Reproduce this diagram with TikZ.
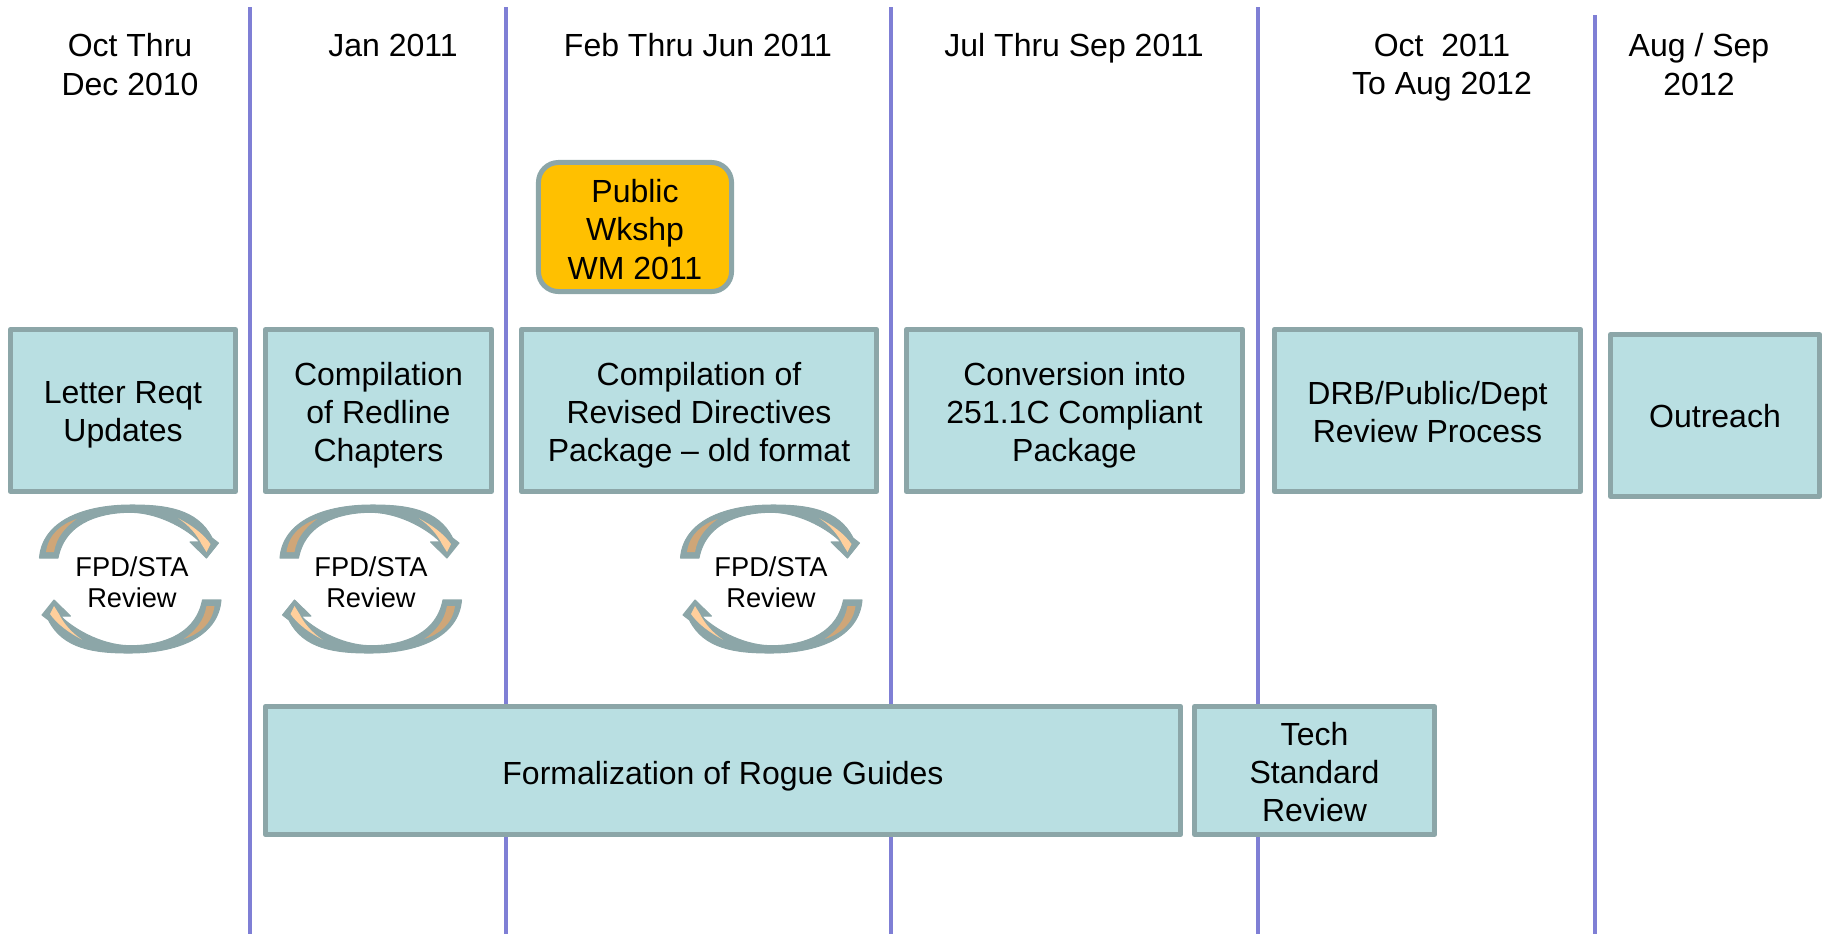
\documentclass[tikz,border=0pt]{standalone}
\usepackage{fontspec}
\setmainfont{Liberation Sans}
\definecolor{boxfill}{HTML}{B9DFE2}
\definecolor{boxline}{HTML}{8CA6A8}
\definecolor{gridblue}{HTML}{7F7FD5}
\definecolor{wkshp}{HTML}{FFC000}
\definecolor{arctan}{HTML}{CFA678}
\definecolor{arclight}{HTML}{FFCF9C}
\newcommand{\reviewarc}{
	% Grey arrow
	\fill[arcshell] (-92,-21) .. controls (-89,-58) and (-48,-74) .. (0,-74)
		.. controls (34,-74) and (66,-70) .. (80.5,-41) -- (87,-36) -- (75,-21) -- (58.5,-37) -- (68.5,-37)
		.. controls (58,-48) and (30,-66) .. (0,-66.7)
		.. controls (-25,-67) and (-66,-60) .. (-73.5,-21) -- cycle;
	% Tail and head colours
	\fill[arctan] (-85.5,-27) .. controls (-83,-45) and (-70,-55) .. (-54.8,-60)
		.. controls (-66,-52) and (-75,-42) .. (-77.5,-27) -- cycle;
	\fill[arclight] (46.8,-60.7) .. controls (60,-54) and (72,-45) .. (79,-35) -- (75,-27) -- (70,-35)
		.. controls (65,-45) and (57,-54) .. (46.8,-60.7) -- cycle;
}
\tikzset{
	period/.style={anchor=north,align=center,inner sep=0pt,font=\fontsize{9.1}{10.9}\selectfont},
	taskbox/.style={draw=boxline,fill=boxfill,line width=1.42pt,line join=round,align=center,inner sep=0pt,font=\fontsize{9.1}{10.9}\selectfont},
	textdrop/.style={execute at begin node={\rule{0pt}{#1}}},
	gridline/.style={gridblue,line width=1pt},
	reviewtext/.style={align=center,inner sep=0pt,font=\fontsize{7.75}{8.9}\selectfont},
	arcshell/.style={fill=boxline,draw=boxline,line width=0.3pt,line join=round},
	reviewloop/.pic={
		\reviewarc
		\begin{scope}[xshift=-0.025cm,rotate=180]
			\reviewarc
		\end{scope}
	}
}
\begin{document}
\begin{tikzpicture}[x=0.01cm,y=-0.01cm]
	\useasboundingbox (0,0) rectangle (1824,936);
	
	% Vertical separators
	\draw[gridline] (250,7) -- (250,934);
	\draw[gridline] (506,7) -- (506,934);
	\draw[gridline] (891,7) -- (891,934);
	\draw[gridline] (1258,7) -- (1258,934);
	\draw[gridline] (1595,15) -- (1595,934);
	
	% Periods
	\node[period] (octdec) at (130,33) {Oct Thru\\Dec 2010};
	\node[period] (jan) at (393,33) {Jan 2011};
	\node[period] (febjun) at (698,33) {Feb Thru Jun 2011};
	\node[period] (julsep) at (1074,33) {Jul Thru Sep 2011};
	\node[period] (octaug) at (1442,33) {Oct\ \ 2011\\To Aug 2012};
	\node[period] (augsep) at (1699,33) {Aug / Sep\\2012};
	
	% Workshop
	\node[taskbox,fill=wkshp,rounded corners=0.2cm,minimum width=1.93cm,minimum height=1.29cm,textdrop=29.7pt] (wkshop) at (635,227) {Public\\Wkshp\\WM 2011};
	
	% Tasks
	\node[taskbox,minimum width=2.25cm,minimum height=1.62cm,textdrop=19.5pt] (letter) at (123,410.5) {Letter Reqt\\Updates};
	\node[taskbox,minimum width=2.26cm,minimum height=1.62cm,textdrop=31pt] (redline) at (378.5,410.5) {Compilation\\of Redline\\Chapters};
	\node[taskbox,minimum width=3.55cm,minimum height=1.62cm,textdrop=31pt] (revised) at (699,410.5) {Compilation of\\Revised Directives\\Package -- old format};
	\node[taskbox,minimum width=3.36cm,minimum height=1.62cm,textdrop=31pt] (conversion) at (1074.5,410.5) {Conversion into\\251.1C Compliant\\Package};
	\node[taskbox,minimum width=3.06cm,minimum height=1.62cm,textdrop=18.2pt] (drb) at (1427.5,410.5) {DRB/Public/Dept\\Review Process};
	\node[taskbox,minimum width=2.09cm,minimum height=1.62cm,textdrop=6.9pt] (outreach) at (1715,415.5) {Outreach};
	\node[taskbox,minimum width=9.15cm,minimum height=1.28cm,textdrop=9.9pt] (rogue) at (723,770.5) {Formalization of Rogue Guides};
	\node[taskbox,minimum width=2.40cm,minimum height=1.28cm,textdrop=29.3pt] (tech) at (1314.5,770.5) {Tech\\Standard\\Review};
	
	% Review loops
	\pic (loopa) at (131.5,579) {reviewloop};
	\pic (loopb) at (372,579) {reviewloop};
	\pic (loopc) at (772.5,579) {reviewloop};
	\node[reviewtext] (reviewa) at (132,582) {FPD/STA\\Review};
	\node[reviewtext] (reviewb) at (371,582) {FPD/STA\\Review};
	\node[reviewtext] (reviewc) at (771,582) {FPD/STA\\Review};
\end{tikzpicture}
\end{document}
